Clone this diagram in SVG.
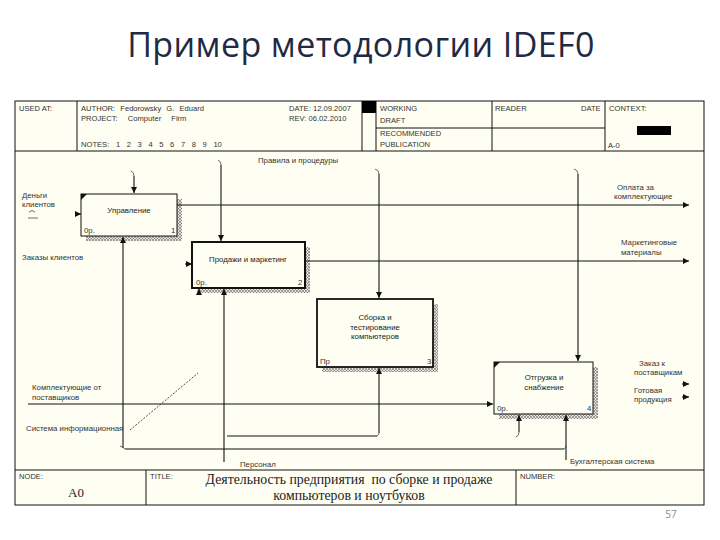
<svg xmlns="http://www.w3.org/2000/svg" width="720" height="540" viewBox="0 0 720 540">
<defs>
<pattern id="hatch" width="3" height="3" patternUnits="userSpaceOnUse">
<rect width="3" height="3" fill="#e8e6dc"/>
<path d="M0,3 L3,0 M0,0 L3,3" stroke="#6a6a6a" stroke-width="0.6"/>
</pattern>
<marker id="ah" viewBox="0 0 8 8" refX="8" refY="4" markerWidth="6" markerHeight="6" orient="auto" markerUnits="userSpaceOnUse">
<path d="M0,0 L8,4 L0,8 Z" fill="#111"/>
</marker>
<style>
.t{font-family:"Liberation Sans",Arial,sans-serif;font-size:7.8px;fill:#333}
.h{font-family:"Liberation Sans",Arial,sans-serif;font-size:7.6px;fill:#333}
.bl{font-family:"Liberation Sans",Arial,sans-serif;font-size:7.8px;fill:#222;text-anchor:middle}
.frame{fill:none;stroke:#111;stroke-width:1}
.box{fill:#fffef2;stroke:#111}
.sh{fill:url(#hatch)}
.ln{fill:none;stroke:#111;stroke-width:1.1}
.tk{fill:none;stroke:#444;stroke-width:0.8}
.ttl{font-family:"Liberation Serif",serif;font-size:13.8px;fill:#222;text-anchor:middle;white-space:pre}
</style>
</defs>
<rect width="720" height="540" fill="#ffffff"/>
<text x="361" y="57" text-anchor="middle" font-family="'Open Sans','Noto Sans',sans-serif" font-size="34" letter-spacing="0.4" fill="#1f2a44">Пример методологии IDEF0</text>
<text x="671" y="518" text-anchor="middle" font-family="'Open Sans',sans-serif" font-size="10" fill="#8a8a8a">57</text>

<g id="frame">
<rect x="15" y="101" width="689" height="404" fill="#fffef2" stroke="#111"/>
<path class="frame" d="M15,151 L704,151 M77,101 L77,151 M362,101 L362,151 M376,101 L376,151 M492,101 L492,151 M605,101 L605,151 M376,128 L605,128"/>
<rect x="362" y="101" width="14" height="12" fill="#000"/>
<rect x="637" y="126" width="34" height="9" fill="#000"/>
<text class="h" x="19" y="111">USED AT:</text>
<text class="h" x="81" y="111" word-spacing="3">AUTHOR: Fedorowsky G. Eduard</text>
<text class="h" x="81" y="121" word-spacing="8">PROJECT: Computer Firm</text>
<text class="h" x="81" y="147" word-spacing="4.5">NOTES: 1 2 3 4 5 6 7 8 9 10</text>
<text class="h" x="289" y="111">DATE:  12.09.2007</text>
<text class="h" x="289" y="121">REV:    06.02.2010</text>
<text class="h" x="380" y="111">WORKING</text>
<text class="h" x="380" y="123">DRAFT</text>
<text class="h" x="380" y="136">RECOMMENDED</text>
<text class="h" x="380" y="147">PUBLICATION</text>
<text class="h" x="495" y="111">READER</text>
<text class="h" x="581" y="111">DATE</text>
<text class="h" x="609" y="111">CONTEXT:</text>
<text class="h" x="608" y="148">A-0</text>
<path class="frame" d="M15,470 L704,470 M146,470 L146,505 M516,470 L516,505"/>
<text class="h" x="19" y="479">NODE:</text>
<text x="68" y="497" font-family="'Liberation Serif',serif" font-size="13" fill="#222">A0</text>
<text class="h" x="150" y="479">TITLE:</text>
<text class="ttl" x="349" y="484">Деятельность предприятия  по сборке и продаже</text>
<text class="ttl" x="349" y="500">компьютеров и ноутбуков</text>
<text class="h" x="520" y="479">NUMBER:</text>
</g>

<g id="node1">
<rect class="sh" x="86" y="199" width="96" height="42"/>
<rect class="box" x="81" y="194" width="96" height="42" stroke-width="1"/>
<path d="M81,194 L87,194 L81,200 Z" fill="#111"/>
<text class="bl" x="129" y="213">Управление</text>
<text class="t" x="84" y="233">0р.</text>
<text class="t" x="171" y="233">1</text>
</g>

<g id="node2">
<rect class="sh" x="197" y="247" width="113" height="46"/>
<rect class="box" x="192" y="242" width="113" height="46" stroke-width="2"/>
<text class="bl" x="248" y="262">Продажи и маркетинг</text>
<text class="t" x="196" y="285">0р.</text>
<text class="t" x="298" y="285">2</text>
</g>

<g id="node3">
<rect class="sh" x="322" y="304" width="116" height="68"/>
<rect class="box" x="317" y="299" width="116" height="68" stroke-width="1.8"/>
<text class="bl" x="375" y="320">Сборка и</text>
<text class="bl" x="375" y="330">тестирование</text>
<text class="bl" x="375" y="339">компьютеров</text>
<text class="t" x="320" y="364">Пр</text>
<text class="t" x="427" y="364">3</text>
</g>

<g id="node4">
<rect class="sh" x="499" y="367" width="99" height="52"/>
<rect class="box" x="494" y="362" width="99" height="52" stroke-width="1"/>
<path d="M494,362 L500,362 L494,368 Z" fill="#111"/>
<text class="bl" x="544" y="380">Отгрузка и</text>
<text class="bl" x="544" y="390">снабжение</text>
<text class="t" x="497" y="411">0р.</text>
<text class="t" x="587" y="411">4</text>
</g>

<g id="connectors">
<path class="ln" d="M221,165 L221,241" marker-end="url(#ah)"/>
<path class="tk" d="M218,160 Q221,161 221,165"/>
<path class="ln" d="M134,176 L134,193" marker-end="url(#ah)"/>
<path class="tk" d="M131,171 Q134,172 134,176"/>
<path class="ln" d="M379,174 L379,298" marker-end="url(#ah)"/>
<path class="tk" d="M375,169 Q379,170 379,174"/>
<path class="ln" d="M578,174 L578,361" marker-end="url(#ah)"/>
<path class="tk" d="M574,169 Q578,170 578,174"/>
<path class="ln" d="M177,205 L689,205" marker-end="url(#ah)"/>
<path class="ln" d="M305,261 L689,261" marker-end="url(#ah)"/>
<path class="ln" d="M75,214 L81,214" marker-end="url(#ah)"/>
<path class="tk" d="M29,212 q3,-3 6,0 M28,218 L38,218"/>
<path class="ln" d="M185,264 L192,264" marker-end="url(#ah)"/>
<path class="ln" d="M123,448 L123,237" marker-end="url(#ah)"/>
<path class="tk" d="M120,446 Q123,447 125,449"/>
<path class="ln" d="M125,449 L564,449"/>
<path class="tk" d="M564,449 Q566,448 566,446"/>
<path class="ln" d="M566,460 L566,415" marker-end="url(#ah)"/>
<path class="ln" d="M224,462 L224,289" marker-end="url(#ah)"/>
<path class="ln" d="M199,293 L199,289" marker-end="url(#ah)"/>
<path class="ln" d="M227,436 L377,436"/>
<path class="tk" d="M377,436 Q379,435 379,433"/>
<path class="ln" d="M379,433 L379,368" marker-end="url(#ah)"/>
<path class="ln" d="M28,404 L493,404" marker-end="url(#ah)"/>
<path class="ln" d="M519,432 L519,415" marker-end="url(#ah)"/>
<path class="tk" d="M516,437 Q519,436 519,432"/>
<path d="M130,430 L198,373" fill="none" stroke="#333" stroke-width="0.9" stroke-dasharray="2,1.5"/>
<path class="ln" d="M682,384 L689,384" marker-end="url(#ah)"/>
<path class="ln" d="M682,397 L689,397" marker-end="url(#ah)"/>
</g>

<g id="labels">
<text class="t" x="258" y="163">Правила и процедуры</text>
<text class="t" x="22" y="198">Деньги</text>
<text class="t" x="22" y="207">клиентов</text>
<text class="t" x="22" y="260">Заказы клиентов</text>
<text class="t" x="617" y="190">Оплата за</text>
<text class="t" x="614" y="199">комплектующие</text>
<text class="t" x="621" y="245">Маркетинговые</text>
<text class="t" x="621" y="255">материалы</text>
<text class="t" x="32" y="390">Комплектующие от</text>
<text class="t" x="32" y="400">поставщиков</text>
<text class="t" x="26" y="431">Система информационная</text>
<text class="t" x="240" y="467">Персонал</text>
<text class="t" x="570" y="464">Бухгалтерская система</text>
<text class="t" x="639" y="366">Заказ к</text>
<text class="t" x="634" y="375">поставщикам</text>
<text class="t" x="634" y="393">Готовая</text>
<text class="t" x="634" y="402">продукция</text>
</g>
</svg>
